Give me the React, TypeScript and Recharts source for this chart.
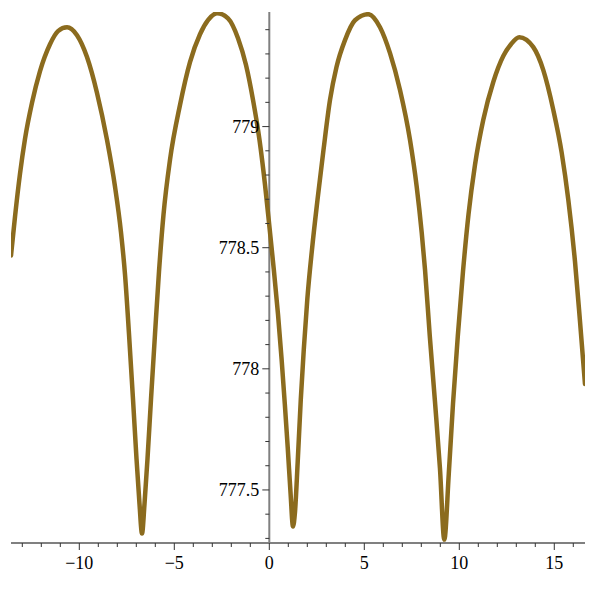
import React from "react";
import { LineChart, Line, XAxis, YAxis, ReferenceLine, ReferenceDot } from "recharts";

// values, one row per half-arch
const xs = [
  -13.595, -13.384, -13.121, -12.858, -12.489, -12.068, -11.542, -11.121, -10.647,
  -10.121, -9.595, -9.068, -8.542, -8.121, -7.805, -7.595, -7.384, -7.174, -6.989, -6.832, -6.7,
  -6.568, -6.411, -6.226, -6.016, -5.805, -5.568, -5.226, -4.7, -4.174, -3.647, -3.226, -2.753,
  -2.174, -1.647, -1.226, -0.858, -0.516, -0.226, 0.011, 0.237, 0.458, 0.647, 0.816, 0.974, 1.121, 1.247,
  1.353, 1.495, 1.658, 1.816, 2.0, 2.247, 2.537, 2.853, 3.195, 3.537, 3.984, 4.511, 5.211,
  5.826, 6.353, 6.879, 7.405, 7.758, 8.021, 8.195, 8.447, 8.721, 8.984, 9.211,
  9.447, 9.668, 9.921, 10.195, 10.484, 10.826, 11.263, 11.789, 12.316, 12.721, 13.158,
  13.895, 14.421, 14.947, 15.389, 15.737, 16.089, 16.353, 16.616,
];
const ys = [
  778.468, 778.628, 778.805, 778.949, 779.098, 779.229, 779.34, 779.394, 779.41,
  779.377, 779.287, 779.139, 778.945, 778.752, 778.563, 778.39, 778.143, 777.875, 777.628, 777.443, 777.32,
  777.443, 777.628, 777.875, 778.143, 778.402, 778.637, 778.863, 779.089, 779.266, 779.381, 779.439, 779.468,
  779.447, 779.365, 779.254, 779.11, 778.945, 778.76, 778.583, 778.41, 778.225, 778.04, 777.855, 777.67, 777.484, 777.349,
  777.41, 777.616, 777.875, 778.081, 778.287, 778.493, 778.698, 778.904, 779.11, 779.246, 779.357, 779.439, 779.464,
  779.41, 779.303, 779.151, 778.945, 778.752, 778.563, 778.41, 778.135, 777.863, 777.587, 777.295,
  777.567, 777.855, 778.135, 778.402, 778.637, 778.842, 779.028, 779.184, 779.291, 779.34, 779.369,
  779.328, 779.233, 779.069, 778.892, 778.698, 778.443, 778.196, 777.937,
];

const xMajor = [-10, -5, 0, 5, 10, 15];
const xTicks = [
  -13, -12, -11, -10, -9, -8, -7, -6, -5, -4, -3, -2, -1, 0, 1, 2, 3, 4, 5, 6, 7, 8, 9, 10,
  11, 12, 13, 14, 15, 16,
];
const yMajor = [777.5, 778, 778.5, 779];
const yTicks = [
  777.3, 777.4, 777.5, 777.6, 777.7, 777.8, 777.9, 778, 778.1, 778.2, 778.3, 778.4, 778.5,
  778.6, 778.7, 778.8, 778.9, 779, 779.1, 779.2, 779.3, 779.4,
];
const xDomain = [-13.595, 16.616];
const yDomain = [777.281, 779.473];

const data = xs.map((x, i) => ({ x, y: ys[i] }));

const FONT = "'Liberation Serif', 'Times New Roman', serif";
const CURVE = "#8b6b1e";
const AXIS = "#808080";

const fmtX = (v: number) => (v < 0 ? `\u2212${Math.abs(v)}` : `${v}`);

const XTick = (props: any) => {
  const { x, y, payload } = props;
  const v = payload.value;
  const major = xMajor.includes(v);
  return (
    <g>
      <line x1={x} x2={x} y1={y} y2={y + (major ? 7 : 4)} stroke="#333" strokeWidth={1} />
      {major && (
        <text x={x} y={y + 26} textAnchor="middle" fontFamily={FONT} fontSize={18} fill="#000">
          {fmtX(v)}
        </text>
      )}
    </g>
  );
};

const yTickShape = (v: number) => (props: any) => {
  const { cx, cy } = props;
  const major = yMajor.includes(v);
  return (
    <g>
      <line x1={cx - (major ? 7 : 4)} x2={cx} y1={cy} y2={cy} stroke="#333" strokeWidth={1} />
      {major && (
        <text x={cx - 10} y={cy + 6} textAnchor="end" fontFamily={FONT} fontSize={18} fill="#000">
          {v}
        </text>
      )}
    </g>
  );
};

export default function App() {
  return (
    <div style={{ position: "absolute", left: 0, top: 0, width: 596, height: 596, background: "#fff" }}>
      <LineChart width={596} height={596} data={data} margin={{ top: 12, right: 11, left: 11, bottom: 0 }}>
        <XAxis
          type="number"
          dataKey="x"
          domain={xDomain}
          allowDataOverflow
          ticks={xTicks}
          interval={0}
          height={53}
          tickSize={0}
          tickMargin={0}
          tickLine={false}
          tick={XTick}
          axisLine={{ stroke: AXIS, strokeWidth: 2 }}
        />
        <YAxis type="number" domain={yDomain} allowDataOverflow hide />
        <ReferenceLine x={0} stroke={AXIS} strokeWidth={2} />
        {yTicks.map((v) => (
          <ReferenceDot key={v} x={0} y={v} r={0} shape={yTickShape(v)} />
        ))}
        <Line
          type="monotone"
          dataKey="y"
          stroke={CURVE}
          strokeWidth={4.5}
          dot={false}
          isAnimationActive={false}
          strokeLinejoin="round"
          strokeLinecap="round"
        />
      </LineChart>
    </div>
  );
}
